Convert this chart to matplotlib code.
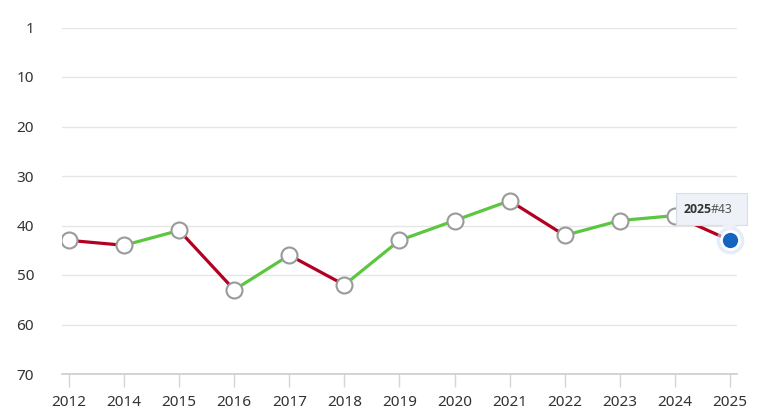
import matplotlib.pyplot as plt
from matplotlib.patches import Rectangle, Polygon
import numpy as np

# Rang pro Jahr (1 = bester Rang)
jahre = ['2012', '2014', '2015', '2016', '2017', '2018', '2019',
         '2020', '2021', '2022', '2023', '2024', '2025']
rang = [43, 44, 41, 53, 46, 52, 43, 39, 35, 42, 39, 38, 43]

y_ticks = [0, 10, 20, 30, 40, 50, 60, 70]
y_labels = ['1', '10', '20', '30', '40', '50', '60', '70']

gruen = '#5cc640'
rot = '#b30021'
blau = '#1565c0'
textfarbe = '#333333'

plt.rcParams['font.family'] = ['Noto Sans', 'DejaVu Sans']

fig = plt.figure(figsize=(7.65, 4.18), dpi=100)
ax = fig.add_axes([62 / 765, 1 - 374 / 418, (737 - 62) / 765, (374 - 27.5) / 418])

x = np.arange(len(jahre))

# Segmente: gruen wenn sich der Rang verbessert, rot wenn er schlechter wird
for i in range(len(x) - 1):
    farbe = gruen if rang[i + 1] < rang[i] else rot
    ax.plot(x[i:i + 2], rang[i:i + 2], color=farbe, linewidth=2.3,
            solid_capstyle='round', zorder=2)

# Punkte (letzter Punkt hervorgehoben)
ax.plot(x[:-1], rang[:-1], 'o', markersize=11.5, markerfacecolor='white',
        markeredgecolor='#9a9a9a', markeredgewidth=1.5, zorder=3)
ax.plot(x[-1], rang[-1], 'o', markersize=20, markerfacecolor='#cfe3f7',
        markeredgecolor='none', alpha=0.6, zorder=3, clip_on=False)
ax.plot(x[-1], rang[-1], 'o', markersize=13, markerfacecolor=blau,
        markeredgecolor='white', markeredgewidth=2, zorder=4, clip_on=False)

# Tooltip ueber dem letzten Punkt
xl, yl = x[-1], rang[-1]
box = Rectangle((xl - 0.98, yl - 9.6), 1.29, 6.5, facecolor='#eef1f7',
                edgecolor='#d9dde5', linewidth=0.8, zorder=6, clip_on=False)
ax.add_patch(box)
spitze = Polygon([(xl - 0.15, yl - 3.15), (xl + 0.13, yl - 3.15), (xl - 0.02, yl - 1.9)],
                 closed=True, facecolor='#eef1f7', edgecolor='none', zorder=7,
                 clip_on=False)
ax.add_patch(spitze)
t_jahr = ax.text(xl - 0.85, yl - 6.3, jahre[-1], fontsize=8.8, fontweight='bold',
                 family=['Open Sans', 'DejaVu Sans'], color=textfarbe,
                 va='center', ha='left', zorder=8)
ax.annotate('#' + str(yl), xy=(1, 0.5), xycoords=t_jahr, fontsize=8.8,
            color='#555555', va='center', ha='left', zorder=8)

ax.set_xlim(-0.127, len(x) - 1 + 0.127)
ax.set_ylim(70, 0)
ax.set_yticks(y_ticks)
ax.set_yticklabels(y_labels)
ax.set_xticks(x)
ax.set_xticklabels(jahre)

ax.grid(axis='y', color='#e6e6e6', linewidth=1)
ax.set_axisbelow(True)
for seite in ['top', 'right', 'left']:
    ax.spines[seite].set_visible(False)
ax.spines['bottom'].set_color('#cccccc')
ax.spines['bottom'].set_linewidth(1.2)

ax.tick_params(axis='y', length=0, pad=20, labelsize=11, labelcolor=textfarbe)
ax.tick_params(axis='x', length=9, color='#d6d6d6', width=1, pad=6,
               labelsize=11, labelcolor=textfarbe)

fig.savefig('out.png', dpi=100)
